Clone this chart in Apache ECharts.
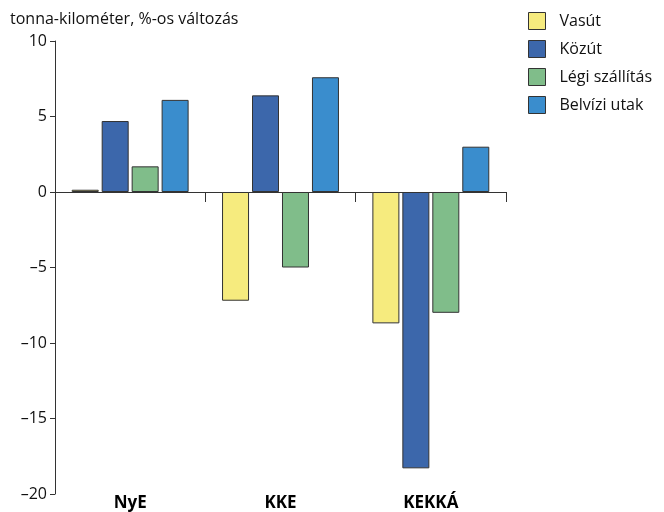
<!DOCTYPE html>
<html>
<head>
<meta charset="utf-8">
<script src="https://cdn.jsdelivr.net/npm/echarts@6/dist/echarts.min.js"></script>
<style>
  html, body { margin: 0; padding: 0; background: #fff; }
  #chart { width: 664px; height: 512px; }
</style>
</head>
<body>
<div id="chart"></div>
<script>
const categories = ['NyE', 'KKE', 'KEKKÁ'];
const seriesNames = ['Vasút', 'Közút', 'Légi szállítás', 'Belvízi utak'];
const vasut = [0.15, -7.2, -8.7];
const kozut = [4.7, 6.4, -18.3];
const legi = [1.7, -5.0, -8.0];
const belvizi = [6.1, 7.6, 3.0];
const colors = ['#f6eb7e', '#3c67ab', '#80bd8a', '#3a8dcd'];

const font = 'Open Sans';
const values = [vasut, kozut, legi, belvizi];

const chart = echarts.init(document.getElementById('chart'));

const option = {
    animation: false,
    textStyle: { fontFamily: font },
    title: {
        text: 'tonna-kilométer, %-os változás',
        left: 5,
        top: 6,
        textStyle: { fontSize: 16, fontWeight: 'normal', color: '#111', fontFamily: font }
    },
    legend: {
        orient: 'vertical',
        left: 523,
        top: 7,
        itemWidth: 17,
        itemHeight: 17,
        itemGap: 10,
        icon: 'rect',
        data: seriesNames,
        itemStyle: { borderColor: '#333', borderWidth: 1 },
        textStyle: { fontSize: 16, color: '#111', padding: [0, 0, 0, 9] }
    },
    grid: { left: 55, right: 158, top: 41, bottom: 18 },
    xAxis: [
        {
            type: 'category',
            data: categories,
            axisLine: { onZero: true, lineStyle: { color: '#333', width: 1 } },
            axisTick: { show: true, length: 10, interval: 0, lineStyle: { color: '#333' } },
            axisLabel: { show: false }
        },
        {
            type: 'category',
            data: categories,
            position: 'bottom',
            axisLine: { show: false, onZero: false },
            axisTick: { show: false },
            axisLabel: {
                fontSize: 17,
                fontWeight: 'bold',
                color: '#000',
                margin: 1,
                interval: 0
            }
        }
    ],
    yAxis: {
        type: 'value',
        min: -20,
        max: 10,
        interval: 5,
        splitLine: { show: false },
        axisLine: { show: true, onZero: false, lineStyle: { color: '#333' } },
        axisTick: { show: true, length: 5, lineStyle: { color: '#333' } },
        axisLabel: {
            fontSize: 16,
            color: '#111',
            margin: 8,
            formatter: v => String(v).replace('-', '–')
        }
    },
    series: seriesNames.map((name, i) => ({
        name: name,
        type: 'bar',
        xAxisIndex: 0,
        barWidth: 27,
        barGap: '11%',
        data: values[i],
        itemStyle: { color: colors[i], borderColor: '#333', borderWidth: 1 }
    }))
};

chart.setOption(option);
</script>
</body>
</html>
